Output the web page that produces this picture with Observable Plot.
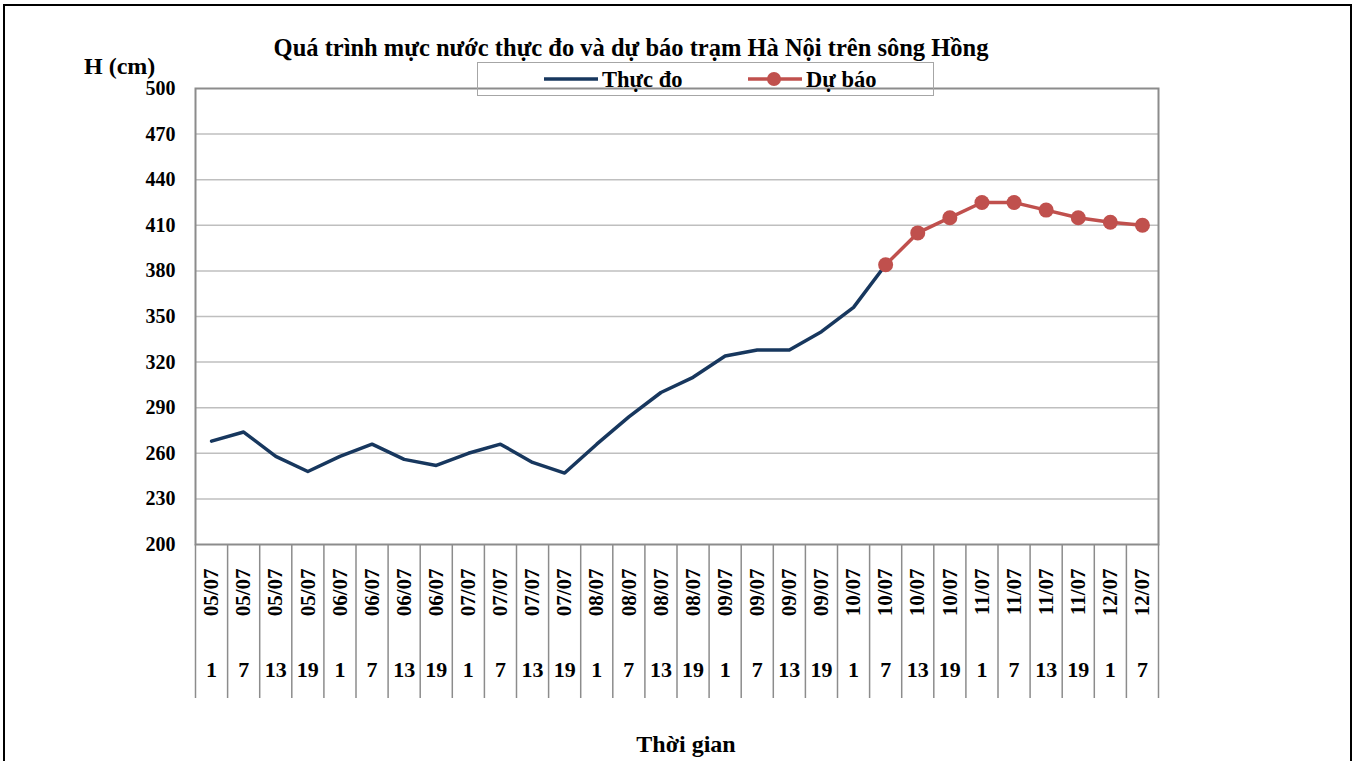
<!DOCTYPE html>
<html>
<head>
<meta charset="utf-8">
<script src="https://cdn.jsdelivr.net/npm/d3@7"></script>
<script src="https://cdn.jsdelivr.net/npm/@observablehq/plot@0.6"></script>
<style>
  body { margin: 0; background: #fff; }
  #wrap { position: relative; width: 1357px; height: 761px; overflow: hidden; font-family: "Liberation Serif", "Times New Roman", serif; font-weight: bold; color: #000; }
  #wrap svg.plot { position: absolute; left: 0; top: 0; }
  .abs { position: absolute; white-space: nowrap; }
</style>
</head>
<body>
<div id="wrap">
  <div class="abs" style="left:3px;top:4px;width:1345px;height:800px;border:2px solid #000;"></div>
  <div id="chart"></div>
  <div class="abs" id="title" style="left:0;width:1262px;top:34px;text-align:center;font-size:24.5px;">Quá trình mực nước thực đo và dự báo trạm Hà Nội trên sông Hồng</div>
  <div class="abs" style="left:477px;top:62px;width:455px;height:32px;border:1.5px solid #a6a6a6;"></div>
  <div class="abs" id="leg1" style="left:544px;top:66px;font-size:22.5px;display:flex;align-items:center;">
    <svg width="58" height="28"><line x1="0" y1="13" x2="54" y2="13" stroke="#17375e" stroke-width="3.5"/></svg><span>Thực đo</span>
  </div>
  <div class="abs" id="leg2" style="left:748px;top:66px;font-size:22.5px;display:flex;align-items:center;">
    <svg width="58" height="28"><line x1="0" y1="13" x2="54" y2="13" stroke="#c0504d" stroke-width="3.5"/><circle cx="26" cy="13" r="7" fill="#c0504d"/></svg><span>Dự báo</span>
  </div>
  <div class="abs" id="ylab" style="left:84px;top:53px;font-size:24px;">H (cm)</div>
  <div class="abs" id="xlab" style="left:0;width:1372px;top:731px;text-align:center;font-size:24px;">Thời gian</div>
</div>
<script>
// ---- data ----
const dateLabels = ["05/07","05/07","05/07","05/07","06/07","06/07","06/07","06/07","07/07","07/07","07/07","07/07","08/07","08/07","08/07","08/07","09/07","09/07","09/07","09/07","10/07","10/07","10/07","10/07","11/07","11/07","11/07","11/07","12/07","12/07"];
const hourLabels = [1,7,13,19,1,7,13,19,1,7,13,19,1,7,13,19,1,7,13,19,1,7,13,19,1,7,13,19,1,7];
const observed = [268,274,258,248,258,266,256,252,260,266,254,247,266,284,300,310,324,328,328,340,356,384];
const forecastStart = 21;
const forecast = [384,405,415,425,425,420,415,412,410];
const yTicks = [200,230,260,290,320,350,380,410,440,470,500];

const idx = dateLabels.map((_, i) => i);
const bounds = d3.range(0, dateLabels.length + 1).map(i => i - 0.5);
const obsData = observed.map((v, i) => ({i, v}));
const fcData = forecast.map((v, k) => ({i: forecastStart + k, v}));

const chart = Plot.plot({
  width: 1357,
  height: 761,
  marginLeft: 195,
  marginRight: 199,
  marginTop: 88,
  marginBottom: 217,
  style: {fontFamily: '"Liberation Serif", "Times New Roman", serif', fontWeight: "bold", color: "#000", background: "transparent"},
  x: {type: "linear", domain: [-0.5, dateLabels.length - 0.5], axis: null},
  y: {domain: [200, 500], axis: null},
  marks: [
    Plot.gridY(yTicks.filter(v => v > 200 && v < 500), {stroke: "#bfbfbf", strokeOpacity: 1, strokeWidth: 1.5}),
    Plot.axisY(yTicks, {tickSize: 0, tickPadding: 20, fontSize: 20, fontWeight: "bold", label: null}),
    Plot.axisX(bounds, {tickSize: 154, tickFormat: () => "", stroke: "#8c8c8c", strokeWidth: 1.5, label: null}),
    Plot.text(idx, {x: i => i, text: i => dateLabels[i], frameAnchor: "bottom", dy: 24, rotate: -90, textAnchor: "end", lineAnchor: "middle", fontSize: 21, fontWeight: "bold", fill: "#000"}),
    Plot.text(idx, {x: i => i, text: i => String(hourLabels[i]), frameAnchor: "bottom", dy: 132, fontSize: 22, fontWeight: "bold", fill: "#000"}),
    Plot.frame({stroke: "#8c8c8c", strokeWidth: 2}),
    Plot.line(obsData, {x: "i", y: "v", stroke: "#17375e", strokeWidth: 3.5}),
    Plot.line(fcData, {x: "i", y: "v", stroke: "#c0504d", strokeWidth: 3.5}),
    Plot.dot(fcData, {x: "i", y: "v", r: 7.5, fill: "#c0504d", stroke: "none"})
  ]
});
chart.classList.add("plot");
document.getElementById("chart").appendChild(chart);
</script>
</body>
</html>
